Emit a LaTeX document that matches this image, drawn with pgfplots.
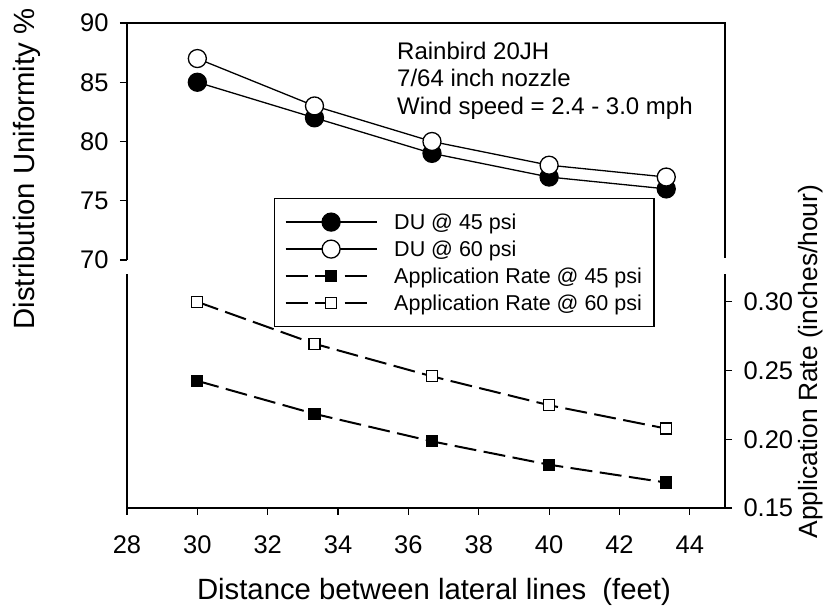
\documentclass[border=0pt]{standalone}
\usepackage{pgfplots}
\pgfplotsset{compat=1.18}
\usepackage{fontspec}
\setmainfont{Liberation Sans}

\newcommand\tickfont{\fontsize{25.5}{30}\selectfont}
\newcommand\labelfont{\fontsize{29.3}{34}\selectfont}
\newcommand\rlabelfont{\fontsize{26.4}{31}\selectfont}
\newcommand\notefont{\fontsize{24}{28}\selectfont}
\newcommand\legfont{\fontsize{21.5}{26}\selectfont}

\pgfplotsset{
  common/.style={
    scale only axis, width=598pt, xmin=28, xmax=45, anchor=south west,
    axis line style={draw=none}, tick align=outside, major tick length=7pt,
    tick style={black, line width=1.2pt},
    ticklabel style={font=\tickfont},
    /pgf/number format/assume math mode=true,
    clip=false,
  },
  solidline/.style={black, line width=1.3pt},
  dashline/.style={black, line width=2pt, dash pattern=on 22pt off 7.5pt},
}

\begin{document}
\begin{tikzpicture}
\useasboundingbox (-127pt,-99pt) rectangle (696pt,508pt);

% lower axis: application rate
\begin{axis}[common, at={(0pt,0pt)}, height=233.6pt, ymin=0.15, ymax=0.32,
  xtick={28,30,...,44}, xtick pos=left,
  ytick={0.15,0.2,0.25,0.3}, ytick pos=right, yticklabel pos=right,
  yticklabel style={xshift=8pt, /pgf/number format/.cd, fixed, fixed zerofill, precision=2},
  xticklabel style={yshift=-17pt}]
\draw[line width=1.2pt] (rel axis cs:0,1) -- (rel axis cs:0,0) -- (rel axis cs:1,0) -- (rel axis cs:1,1);
\addplot[dashline, mark=square*, mark size=5.5pt, mark options={solid, fill=black, line width=1.2pt}]
  coordinates {(30,0.2425) (33.33,0.2185) (36.67,0.1985) (40,0.1815) (43.33,0.1685)};
\addplot[dashline, mark=square*, mark size=5.5pt, mark options={solid, fill=white, line width=1.2pt}]
  coordinates {(30,0.300) (33.33,0.2695) (36.67,0.2458) (40,0.2248) (43.33,0.2078)};
\end{axis}

% upper axis: distribution uniformity
\begin{axis}[common, at={(0pt,248pt)}, height=237pt, ymin=70, ymax=90,
  xtick=\empty, ytick={70,75,...,90}, ytick pos=left,
  yticklabel style={xshift=-8pt},
  legend style={at={(0.2458,0.2616)}, anchor=north west, draw=black, line width=1.2pt,
    fill=white, font=\legfont, inner xsep=10pt, inner ysep=10pt, row sep=0pt,
    column sep=15pt, cells={anchor=west},
    nodes={inner sep=2pt, text height=19pt, text depth=4pt}},
  legend cell align=left,
  legend image code/.code={\draw[mark repeat=2, mark phase=2] plot coordinates {(0pt,0pt) (45.5pt,0pt) (91pt,0pt)};}]
\draw[line width=1.2pt] (rel axis cs:0,0) -- (rel axis cs:0,1) -- (rel axis cs:1,1) -- (rel axis cs:1,0.008);
\addplot[solidline, mark=*, mark size=9pt, mark options={fill=black}]
  coordinates {(30,85) (33.33,82) (36.67,79) (40,77) (43.33,76)};
\addlegendentry{DU @ 45 psi}
\addplot[solidline, mark=*, mark size=9pt, mark options={fill=white}]
  coordinates {(30,87) (33.33,83) (36.67,80) (40,78) (43.33,77)};
\addlegendentry{DU @ 60 psi}
\addlegendimage{dashline, mark=square*, mark size=5.5pt, mark options={solid, fill=black, line width=1.2pt},
  legend image code/.code={\draw[mark repeat=2, mark phase=2] plot coordinates {(0pt,0pt) (45.5pt,0pt) (82pt,0pt)};}}
\addlegendentry{Application Rate @ 45 psi}
\addlegendimage{dashline, mark=square*, mark size=5.5pt, mark options={solid, fill=white, line width=1.2pt},
  legend image code/.code={\draw[mark repeat=2, mark phase=2] plot coordinates {(0pt,0pt) (45.5pt,0pt) (82pt,0pt)};}}
\addlegendentry{Application Rate @ 60 psi}
\end{axis}

\node[anchor=base west, inner sep=0pt, font=\notefont] at (270pt,448pt) {Rainbird 20JH};
\node[anchor=base west, inner sep=0pt, font=\notefont] at (270pt,421pt) {7/64 inch nozzle};
\node[anchor=base west, inner sep=0pt, font=\notefont] at (270pt,393pt) {Wind speed = 2.4 - 3.0 mph};

\node[rotate=90, anchor=base, inner sep=0pt, font=\labelfont] at (-92pt,339pt) {Distribution Uniformity \%};
\node[rotate=90, anchor=base, inner sep=0pt, font=\rlabelfont] at (690pt,146.5pt) {Application Rate (inches/hour)};
\node[anchor=base, inner sep=0pt, font=\labelfont] at (307pt,-92pt) {Distance between lateral lines\ \ (feet)};
\end{tikzpicture}
\end{document}
